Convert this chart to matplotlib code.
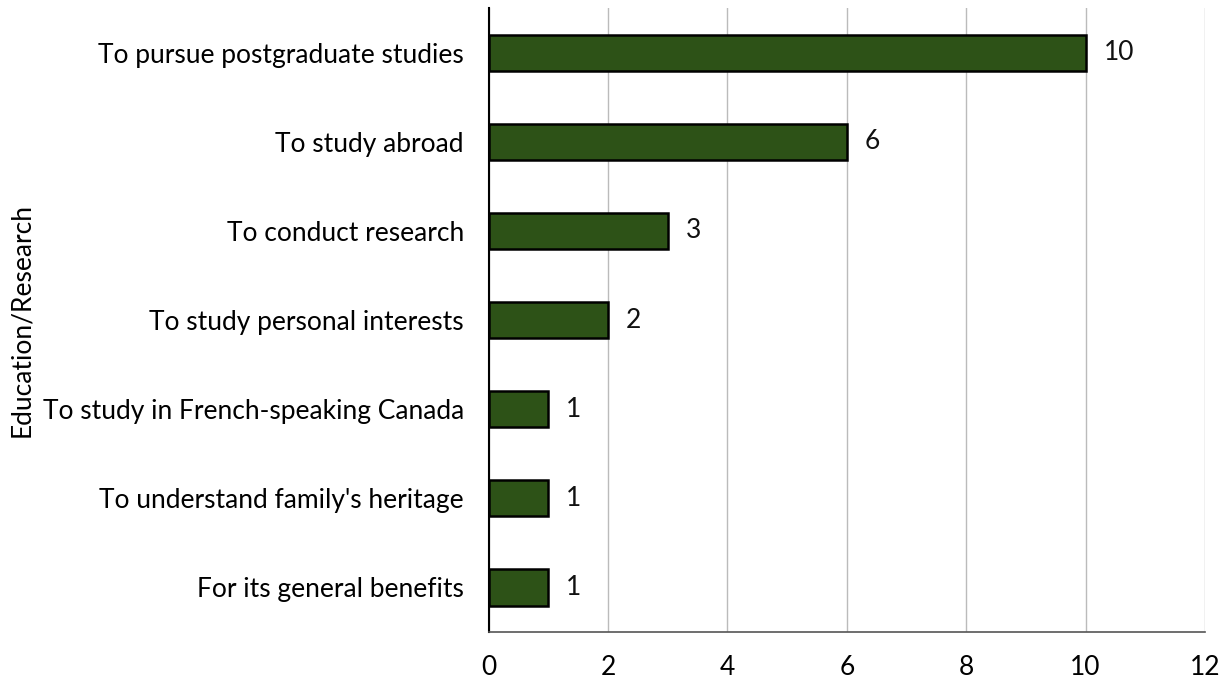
import matplotlib
matplotlib.use("Agg")
import matplotlib.pyplot as plt

# reasons, top to bottom as shown
reasons = [
    "To pursue postgraduate studies",
    "To study abroad",
    "To conduct research",
    "To study personal interests",
    "To study in French-speaking Canada",
    "To understand family's heritage",
    "For its general benefits",
]
counts = [10, 6, 3, 2, 1, 1, 1]
xticks = [0, 2, 4, 6, 8, 10, 12]

plt.rcParams['font.family'] = ['Lato', 'DejaVu Sans']

fig = plt.figure(figsize=(12.22, 6.89), dpi=100)
ax = fig.add_axes([0.400, 0.083, 0.586, 0.905])

ypos = list(range(len(reasons)))
ax.barh(ypos, counts, height=0.41, color='#2d5217', edgecolor='black', linewidth=1.8, zorder=3)
for y, v in zip(ypos, counts):
    ax.text(v + 0.3, y, str(v), va='center', ha='left', fontsize=19, color='#111111')

ax.set_yticks(ypos)
ax.set_yticklabels(reasons, fontsize=19)
ax.set_ylim(len(reasons) - 0.5, -0.5)
ax.set_xlim(0, 12)
ax.set_xticks(xticks)
ax.set_xticklabels([str(t) for t in xticks], fontsize=19)
ax.tick_params(axis='y', length=0, pad=18)
ax.tick_params(axis='x', length=0, pad=17)
ax.grid(axis='x', color='#bbbbbb', linewidth=1, zorder=0)
ax.set_ylabel("Education/Research", fontsize=19)
ax.yaxis.set_label_coords(-0.635, 0.5)

for s in ['top', 'right']:
    ax.spines[s].set_visible(False)
ax.spines['left'].set_color('black')
ax.spines['left'].set_linewidth(1.5)
ax.spines['bottom'].set_color('#555555')
ax.spines['bottom'].set_linewidth(1.2)

fig.savefig("out.png", dpi=100)
